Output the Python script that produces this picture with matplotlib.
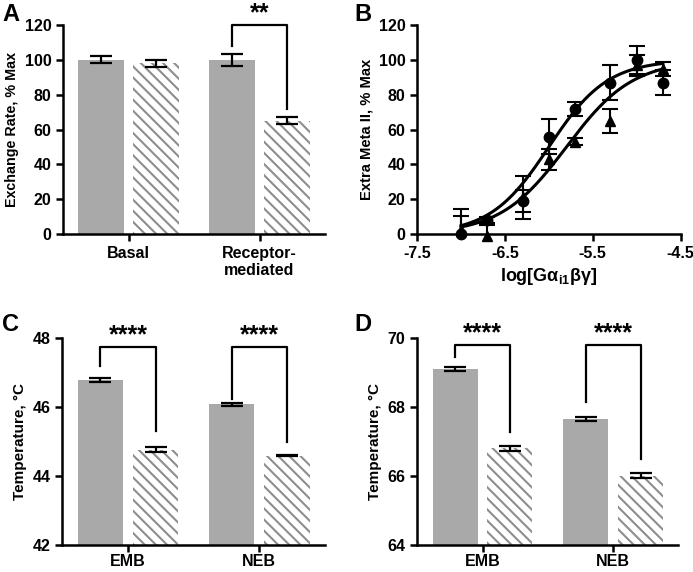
import numpy as np
import matplotlib
matplotlib.use("Agg")
import matplotlib.pyplot as plt

plt.rcParams['font.family'] = ['Liberation Sans', 'DejaVu Sans']
plt.rcParams['font.weight'] = 'bold'
plt.rcParams['axes.labelweight'] = 'bold'
plt.rcParams['mathtext.fontset'] = 'custom'
plt.rcParams['mathtext.rm'] = 'Liberation Sans:bold'
plt.rcParams['mathtext.it'] = 'Liberation Sans:bold'
plt.rcParams['mathtext.bf'] = 'Liberation Sans:bold'
plt.rcParams['hatch.linewidth'] = 1.5

# panel A
a_groups = ["Basal", "Receptor-\nmediated"]
a_solid = [100, 100]
a_solid_err = [2, 3.5]
a_hatch = [98, 65]
a_hatch_err = [2, 2]

# panel B
b_x = [-7.0, -6.7, -6.3, -6.0, -5.7, -5.3, -5.0, -4.7]
b_circ = [0, 8, 19, 56, 72, 87, 100, 87]
b_circ_err = [10.5, 1.5, 6.5, 10, 4, 10, 8, 7]
b_tri = [2, -1, 21, 43, 53, 65, 97, 95]
b_tri_err = [12.5, 6, 12.5, 6, 2, 7, 6, 4]
# fitted curve parameters (logEC50, hill slope, bottom, top)
b_circ_fit = [-6.0, 1.3, 0, 100]
b_tri_fit = [-5.8, 1.15, 0, 100]

# panel C
c_groups = ["EMB", "NEB"]
c_solid = [46.78, 46.07]
c_solid_err = [0.06, 0.03]
c_hatch = [44.76, 44.58]
c_hatch_err = [0.06, 0.01]

# panel D
d_groups = ["EMB", "NEB"]
d_solid = [69.1, 67.65]
d_solid_err = [0.06, 0.05]
d_hatch = [66.8, 66.0]
d_hatch_err = [0.07, 0.07]

GRAY = '#a9a9a9'
HATCHC = '#8e8e8e'


def style_axes(ax):
    for s in ['top', 'right']:
        ax.spines[s].set_visible(False)
    for s in ['left', 'bottom']:
        ax.spines[s].set_linewidth(1.8)
    ax.tick_params(width=1.8, length=5, labelsize=11.5)


def bar_panel(ax, groups, solid, solid_err, hatch, hatch_err):
    x = np.arange(len(groups))
    ax.bar(x - 0.21, solid, 0.345, color=GRAY, linewidth=0, zorder=1)
    ax.bar(x + 0.21, hatch, 0.345, color='white', edgecolor=HATCHC,
           hatch='\\\\\\', linewidth=0, zorder=1)
    ax.errorbar(x - 0.21, solid, yerr=solid_err, fmt='none', ecolor='black',
                elinewidth=1.6, capsize=8, capthick=1.6, zorder=3)
    ax.errorbar(x + 0.21, hatch, yerr=hatch_err, fmt='none', ecolor='black',
                elinewidth=1.6, capsize=8, capthick=1.6, zorder=3)
    ax.set_xticks(x)
    ax.set_xticklabels(groups)
    ax.set_xlim(-0.5, 1.5)
    style_axes(ax)


def bracket(ax, x1, x2, y1, y2, ytop, label):
    ax.plot([x1, x1, x2, x2], [y1, ytop, ytop, y2], color='black', lw=1.6,
            clip_on=False, zorder=4)
    ax.text((x1 + x2) / 2, ytop, label, ha='center', va='bottom',
            fontsize=18, fontweight='bold', clip_on=False)


fig = plt.figure(figsize=(6.93, 5.72), dpi=100)

# A
axA = fig.add_axes([0.091, 0.591, 0.378, 0.365])
bar_panel(axA, a_groups, a_solid, a_solid_err, a_hatch, a_hatch_err)
axA.set_ylim(0, 120)
axA.set_yticks(range(0, 121, 20))
axA.set_ylabel("Exchange Rate, % Max", fontsize=10.3)
bracket(axA, 0.79, 1.21, 108, 72, 120, "**")

# B
axB = fig.add_axes([0.602, 0.591, 0.380, 0.365])
xx = np.linspace(-7.0, -4.7, 200)
for fit, ys, es, mk in [(b_circ_fit, b_circ, b_circ_err, 'o'),
                        (b_tri_fit, b_tri, b_tri_err, '^')]:
    ec50, h, bot, top = fit
    ax_curve = bot + (top - bot) / (1 + 10 ** ((ec50 - xx) * h))
    axB.plot(xx, ax_curve, color='black', lw=2.2)
    axB.errorbar(b_x, ys, yerr=es, fmt='none', ecolor='black',
                 elinewidth=1.5, capsize=6, capthick=1.5)
    axB.plot(b_x, ys, mk, color='black', markersize=7.5, clip_on=False)
axB.set_xlim(-7.5, -4.5)
axB.set_ylim(0, 120)
axB.set_xticks([-7.5, -6.5, -5.5, -4.5])
axB.set_xticklabels(['-7.5', '-6.5', '-5.5', '-4.5'])
axB.set_yticks(range(0, 121, 20))
axB.set_ylabel("Extra Meta II, % Max", fontsize=10.6)
axB.set_xlabel(r"log[G$\alpha_{\mathrm{i1}}\beta\gamma$]", fontsize=13)
style_axes(axB)

# C
axC = fig.add_axes([0.090, 0.048, 0.379, 0.361])
bar_panel(axC, c_groups, c_solid, c_solid_err, c_hatch, c_hatch_err)
axC.set_ylim(42, 48)
axC.set_yticks([42, 44, 46, 48])
axC.set_ylabel("Temperature, \u00b0C", fontsize=11)
bracket(axC, -0.21, 0.21, 47.2, 45.3, 47.74, "****")
bracket(axC, 0.79, 1.21, 46.23, 44.97, 47.74, "****")

# D
axD = fig.add_axes([0.602, 0.048, 0.377, 0.361])
bar_panel(axD, d_groups, d_solid, d_solid_err, d_hatch, d_hatch_err)
axD.set_ylim(64, 70)
axD.set_yticks([64, 66, 68, 70])
axD.set_ylabel("Temperature, \u00b0C", fontsize=11)
bracket(axD, -0.21, 0.21, 69.45, 67.27, 69.79, "****")
bracket(axD, 0.79, 1.21, 68.13, 66.5, 69.79, "****")

for ax in [axC, axD]:
    ax.tick_params(axis='x', pad=1.5, labelsize=11.5)

for lab, x, y in [("A", 0.003, 0.995), ("B", 0.512, 0.995),
                  ("C", 0.003, 0.452), ("D", 0.512, 0.452)]:
    fig.text(x, y, lab, fontsize=17, fontweight='bold', ha='left', va='top')

fig.savefig("out.png", dpi=100)
